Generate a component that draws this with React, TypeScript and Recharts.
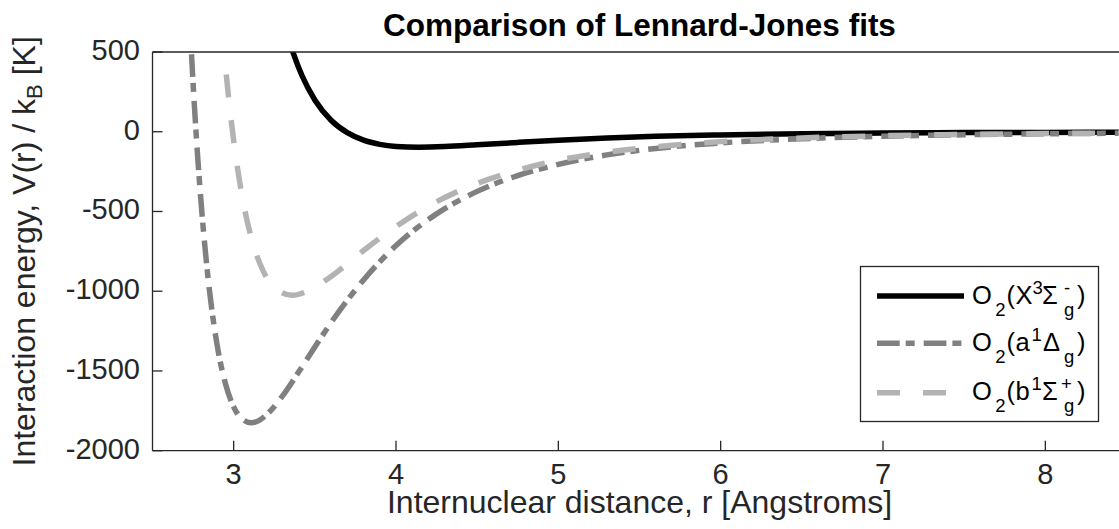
import React from 'react';
import { LineChart, Line, XAxis, YAxis } from 'recharts';

// ---- data ----
// O2(X 3Σg-) : solid black
const rX = [3.25, 3.30, 3.37, 3.42, 3.50, 3.60, 3.70, 3.80, 3.90, 4.00, 4.14, 4.30, 4.50, 4.75, 5.00, 5.30, 5.60, 6.00, 6.50, 7.00, 7.50, 8.00, 8.50];
const vX = [949, 726, 485, 354, 199, 72, -6, -53, -79, -92, -97, -93, -82, -67, -53, -39, -29, -20, -13, -8, -5, -4, -3];
// O2(a 1Δg) : dash-dot mid grey
const rA = [2.70, 2.72, 2.75, 2.78, 2.81, 2.85, 2.90, 2.95, 3.00, 3.05, 3.107, 3.16, 3.20, 3.30, 3.40, 3.50, 3.60, 3.80, 4.00, 4.25, 4.50, 4.75, 5.00, 5.30, 5.60, 6.00, 6.50, 7.00, 7.50, 8.00, 8.50];
const vA = [1364, 899, 304, -182, -576, -987, -1349, -1582, -1725, -1800, -1825, -1808, -1777, -1658, -1507, -1350, -1197, -929, -714, -515, -374, -275, -205, -145, -105, -70, -44, -28, -19, -13, -9];
// O2(b 1Σg+) : dashed light grey
const rB = [2.87, 2.90, 2.94, 2.97, 3.00, 3.04, 3.08, 3.12, 3.18, 3.25, 3.36, 3.45, 3.60, 3.80, 4.00, 4.25, 4.50, 4.75, 5.00, 5.30, 5.60, 6.00, 6.50, 7.00, 7.50, 8.00, 8.50];
const vB = [1510, 1034, 516, 203, -56, -333, -546, -705, -869, -975, -1025, -1002, -907, -745, -594, -439, -324, -241, -179, -129, -94, -62, -39, -25, -17, -11, -8];

const xTicks = [3, 4, 5, 6, 7, 8];
const yTicks = [-2000, -1500, -1000, -500, 0, 500];
const xDomain = [2.5, 8.5];
const yDomain = [-2000, 500];

const titleText = 'Comparison of Lennard-Jones fits';
const xLabelText = 'Internuclear distance, r [Angstroms]';
const yLabelMain = 'Interaction energy, V(r) / k';
const yLabelSub = 'B';
const yLabelTail = ' [K]';

const toRows = (r: number[], v: number[]) => r.map((x, i) => ({ r: x, v: v[i] }));

const FONT = '"Liberation Sans", Arial, Helvetica, sans-serif';
const AX = '#262626';

type Piece = { t: string; dx: number; k: 'm' | 'sub' | 'sup' };

const series = [
  {
    key: 'X',
    rows: toRows(rX, vX),
    color: '#000000',
    width: 5.5,
    dash: undefined as string | undefined,
    pieces: [
      { t: 'O', dx: 0, k: 'm' }, { t: '2', dx: 23.3, k: 'sub' }, { t: '(', dx: 34.5, k: 'm' },
      { t: 'X', dx: 43.5, k: 'm' }, { t: '3', dx: 60.5, k: 'sup' }, { t: 'Σ', dx: 70, k: 'm' },
      { t: '-', dx: 92, k: 'sup' }, { t: 'g', dx: 92, k: 'sub' }, { t: ')', dx: 105, k: 'm' },
    ] as Piece[],
  },
  {
    key: 'a',
    rows: toRows(rA, vA),
    color: '#808080',
    width: 5.5,
    dash: '22.7 6 9 9',
    pieces: [
      { t: 'O', dx: 0, k: 'm' }, { t: '2', dx: 23.3, k: 'sub' }, { t: '(', dx: 34.5, k: 'm' },
      { t: 'a', dx: 43.5, k: 'm' }, { t: '1', dx: 59.5, k: 'sup' }, { t: 'Δ', dx: 71, k: 'm' },
      { t: 'g', dx: 92, k: 'sub' }, { t: ')', dx: 105, k: 'm' },
    ] as Piece[],
  },
  {
    key: 'b',
    rows: toRows(rB, vB),
    color: '#b3b3b3',
    width: 5.5,
    dash: '23 23',
    pieces: [
      { t: 'O', dx: 0, k: 'm' }, { t: '2', dx: 23.3, k: 'sub' }, { t: '(', dx: 34.5, k: 'm' },
      { t: 'b', dx: 43.5, k: 'm' }, { t: '1', dx: 59.5, k: 'sup' }, { t: 'Σ', dx: 70, k: 'm' },
      { t: '+', dx: 89, k: 'sup' }, { t: 'g', dx: 92, k: 'sub' }, { t: ')', dx: 105, k: 'm' },
    ] as Piece[],
  },
];

const XTick = (p: any) => (
  <text x={p.x} y={p.y + 18} textAnchor="middle" fontSize={29} fontFamily={FONT} fill={AX}>
    {p.payload.value}
  </text>
);
const YTick = (p: any) => (
  <text x={p.x} y={p.y + 8} textAnchor="end" fontSize={29} fontFamily={FONT} fill={AX}>
    {p.payload.value}
  </text>
);

const TitleLabel = (p: any) => {
  const vb = p.viewBox || { x: 152.5, width: 974 };
  return (
    <text x={vb.x + vb.width / 2} y={36} textAnchor="middle" fontSize={31.5} fontWeight="bold" fontFamily={FONT} fill="#000">
      {titleText}
    </text>
  );
};
const XLabel = (p: any) => {
  const vb = p.viewBox || { x: 152.5, width: 974 };
  return (
    <text x={vb.x + vb.width / 2} y={513} textAnchor="middle" fontSize={32} fontFamily={FONT} fill={AX}>
      {xLabelText}
    </text>
  );
};
const YLabel = (p: any) => {
  const vb = p.viewBox || { y: 52, height: 398.7 };
  const cy = vb.y + vb.height / 2;
  const cx = 35;
  return (
    <text x={cx} y={cy} transform={`rotate(-90, ${cx}, ${cy})`} textAnchor="middle" fontSize={32} fontFamily={FONT} fill={AX}>
      <tspan>{yLabelMain}</tspan>
      <tspan fontSize={22} dy={7}>{yLabelSub}</tspan>
      <tspan fontSize={32} dy={-7}>{yLabelTail}</tspan>
    </text>
  );
};

const LegendBox = () => {
  const boxX = 860.5, boxY = 266.5, boxW = 238, boxH = 155;
  const rowC = [296, 343.3, 392.7];
  const textX = 972;
  return (
    <svg width={1119} height={529} style={{ position: 'absolute', left: 0, top: 0, pointerEvents: 'none' }}>
      <rect x={boxX} y={boxY} width={boxW} height={boxH} fill="#fff" stroke={AX} strokeWidth={1.3} />
      {series.map((s, i) => {
        const base = rowC[i] + 7.5;
        return (
          <g key={s.key}>
            <line x1={877} x2={964} y1={rowC[i]} y2={rowC[i]} stroke={s.color} strokeWidth={s.width} strokeDasharray={s.dash} />
            {s.pieces.map((pc, j) => (
              <text
                key={j}
                x={textX + pc.dx}
                y={pc.k === 'sub' ? base + 12 : pc.k === 'sup' ? base - 10 : base}
                fontSize={pc.k === 'm' ? 25.5 : 18.5}
                fontFamily={FONT}
                fill="#000"
              >
                {pc.t}
              </text>
            ))}
          </g>
        );
      })}
    </svg>
  );
};

export default function App() {
  const axisLine = { stroke: AX, strokeWidth: 1.3 };
  const tickLine = { stroke: AX, strokeWidth: 1.3 };
  return (
    <div style={{ position: 'absolute', left: 0, top: 0, width: 1119, height: 529, overflow: 'hidden', background: '#fff' }}>
      <LineChart width={1140} height={529} margin={{ top: 51, right: 12.5, bottom: 38.3, left: 92.5 }}>
        <XAxis
          xAxisId="b"
          dataKey="r"
          type="number"
          domain={xDomain}
          ticks={xTicks}
          allowDataOverflow
          orientation="bottom"
          height={40}
          tickSize={-10}
          tickMargin={25.3}
          axisLine={axisLine}
          tickLine={tickLine}
          tick={XTick}
          label={XLabel}
        />
        <XAxis
          xAxisId="t"
          dataKey="r"
          type="number"
          domain={xDomain}
          ticks={xTicks}
          allowDataOverflow
          orientation="top"
          height={1}
          tickSize={-10}
          axisLine={axisLine}
          tickLine={tickLine}
          tick={false}
          label={TitleLabel}
        />
        <YAxis
          yAxisId="l"
          type="number"
          domain={yDomain}
          ticks={yTicks}
          allowDataOverflow
          width={60}
          tickSize={-10}
          tickMargin={22.5}
          axisLine={axisLine}
          tickLine={tickLine}
          tick={YTick}
          label={YLabel}
        />
        <YAxis
          yAxisId="r"
          type="number"
          orientation="right"
          domain={yDomain}
          ticks={yTicks}
          allowDataOverflow
          width={1}
          tickSize={-10}
          axisLine={axisLine}
          tickLine={tickLine}
          tick={false}
        />
        {series.map((s) => (
          <Line
            key={s.key}
            xAxisId="b"
            yAxisId="l"
            data={s.rows}
            dataKey="v"
            type="monotone"
            stroke={s.color}
            strokeWidth={s.width}
            strokeDasharray={s.dash}
            strokeLinecap="butt"
            dot={false}
            activeDot={false}
            isAnimationActive={false}
          />
        ))}
      </LineChart>
      <LegendBox />
    </div>
  );
}
